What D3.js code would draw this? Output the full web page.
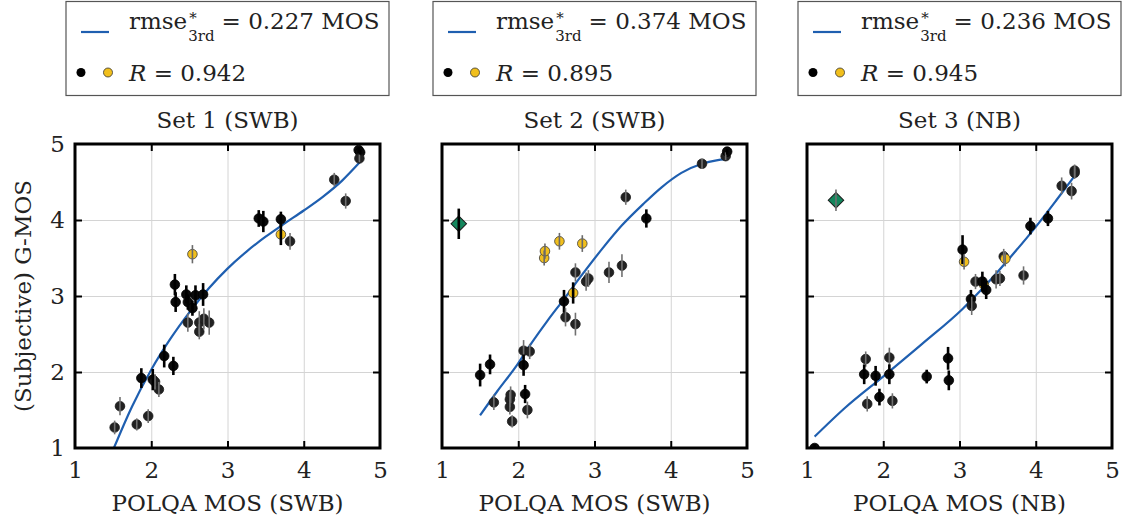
<!DOCTYPE html>
<html>
<head>
<meta charset="utf-8">
<script src="https://cdn.jsdelivr.net/npm/d3@7"></script>
<style>
  html, body { margin: 0; padding: 0; background: #fff; }
  svg { display: block; }
  text { font-family: "DejaVu Serif", "Liberation Serif", serif; fill: #222; }
</style>
</head>
<body>
<svg id="chart" width="1125" height="525"></svg>
<script>
// ---------- data ----------
// marker kinds: k = black point, g = dark grey point, y/Y = yellow point (grey / black bar), D/d = green diamond (black / grey bar)

// Set 1 (SWB)
const set1X   = [1.52, 1.59, 1.81, 1.96, 1.87, 2.02, 2.05, 2.10, 2.17, 2.29, 2.31, 2.32, 2.46, 2.48, 2.48, 2.54, 2.54, 2.58, 2.68, 2.63, 2.63, 2.69, 2.76, 3.41, 3.47, 3.70, 3.70, 3.82, 4.40, 4.55, 4.72, 4.74, 4.73];
const set1Y   = [1.27, 1.55, 1.31, 1.42, 1.92, 1.90, 1.87, 1.77, 2.21, 2.08, 3.15, 2.92, 3.02, 2.92, 2.65, 2.84, 3.55, 3.01, 3.02, 2.53, 2.65, 2.70, 2.65, 4.02, 3.98, 4.01, 3.81, 3.72, 4.53, 4.25, 4.92, 4.89, 4.81];
const set1Err = [0.09, 0.12, 0.08, 0.09, 0.13, 0.14, 0.10, 0.10, 0.15, 0.12, 0.14, 0.13, 0.12, 0.10, 0.12, 0.10, 0.12, 0.13, 0.15, 0.10, 0.15, 0.14, 0.16, 0.11, 0.14, 0.10, 0.14, 0.11, 0.09, 0.10, 0.04, 0.04, 0.05];
const set1Kind = ["g","g","g","g","k","k","g","g","k","k","k","k","k","k","g","k","y","k","k","g","g","g","g","k","k","k","Y","g","g","g","k","k","g"];
const fit1X = [1.51, 1.75, 2.00, 2.25, 2.50, 2.75, 3.00, 3.25, 3.50, 3.75, 4.00, 4.25, 4.50, 4.74];
const fit1Y = [1.00, 1.55, 2.03, 2.435, 2.785, 3.095, 3.36, 3.585, 3.78, 3.955, 4.125, 4.305, 4.515, 4.765];

// Set 2 (SWB)
const set2X   = [1.22, 1.50, 1.63, 1.68, 1.89, 1.90, 1.89, 1.92, 2.07, 2.15, 2.07, 2.09, 2.12, 2.34, 2.35, 2.54, 2.84, 2.60, 2.62, 2.75, 2.75, 2.72, 2.89, 2.92, 3.19, 3.36, 3.41, 3.68, 4.41, 4.72, 4.74];
const set2Y   = [3.95, 1.96, 2.10, 1.60, 1.64, 1.70, 1.54, 1.35, 2.28, 2.27, 2.09, 1.71, 1.50, 3.50, 3.59, 3.72, 3.69, 2.93, 2.72, 2.63, 3.31, 3.04, 3.19, 3.23, 3.31, 3.40, 4.30, 4.02, 4.74, 4.84, 4.90];
const set2Err = [0.20, 0.15, 0.13, 0.10, 0.10, 0.11, 0.10, 0.08, 0.14, 0.10, 0.14, 0.12, 0.11, 0.10, 0.10, 0.11, 0.11, 0.15, 0.12, 0.15, 0.12, 0.14, 0.12, 0.11, 0.14, 0.15, 0.10, 0.12, 0.07, 0.05, 0.04];
const set2Kind = ["D","k","k","g","g","g","g","g","g","g","k","k","g","y","y","y","y","k","g","g","g","Y","g","g","g","g","g","k","g","g","k"];
const fit2X = [1.50, 1.72, 1.99, 2.16, 2.38, 2.60, 2.86, 3.10, 3.36, 3.65, 3.88, 4.14, 4.41, 4.60, 4.73];
const fit2Y = [1.43, 1.74, 2.10, 2.36, 2.67, 2.96, 3.31, 3.62, 3.93, 4.22, 4.43, 4.62, 4.74, 4.785, 4.80];

// Set 3 (NB)
const set3X   = [1.38, 1.10, 1.77, 1.75, 1.90, 1.79, 1.95, 2.08, 2.08, 2.12, 2.57, 2.85, 2.86, 3.04, 3.06, 3.15, 3.16, 3.21, 3.32, 3.30, 3.35, 3.48, 3.53, 3.58, 3.60, 3.84, 3.93, 4.16, 4.34, 4.47, 4.51, 4.51];
const set3Y   = [4.26, 1.00, 2.17, 1.97, 1.95, 1.58, 1.67, 2.19, 1.97, 1.62, 1.94, 2.18, 1.89, 3.61, 3.45, 2.96, 2.87, 3.19, 3.15, 3.19, 3.08, 3.22, 3.23, 3.52, 3.49, 3.27, 3.92, 4.02, 4.45, 4.38, 4.65, 4.62];
const set3Err = [0.14, 0.05, 0.10, 0.13, 0.13, 0.10, 0.11, 0.13, 0.13, 0.10, 0.09, 0.15, 0.13, 0.19, 0.10, 0.12, 0.12, 0.10, 0.10, 0.13, 0.12, 0.12, 0.10, 0.10, 0.10, 0.12, 0.11, 0.10, 0.11, 0.11, 0.08, 0.08];
const set3Kind = ["d","k","g","k","k","g","k","g","k","g","k","k","k","k","y","k","g","g","Y","k","k","g","g","g","y","g","k","k","g","g","g","g"];
const fit3X = [1.10, 1.50, 2.01, 2.51, 3.04, 3.35, 3.65, 4.00, 4.27, 4.51];
const fit3Y = [1.15, 1.53, 1.95, 2.37, 2.83, 3.15, 3.49, 3.91, 4.26, 4.58];

const panelTitles = ["Set 1 (SWB)", "Set 2 (SWB)", "Set 3 (NB)"];
const xAxisLabels = ["POLQA MOS (SWB)", "POLQA MOS (SWB)", "POLQA MOS (NB)"];
const rmseValues = ["0.227", "0.374", "0.236"];
const rValues = ["0.942", "0.895", "0.945"];
const tickValues = [1, 2, 3, 4, 5];
const yAxisLabel = "(Subjective) G-MOS";

// ---------- layout ----------
const svg = d3.select("#chart");
const panelLeft = [75, 442, 807];
const panelW = 305;
const plotTop = 144, plotBottom = 448;
const FS = 23;

const BLUE = "#1f5fb0";
const YELLOW = "#f1bf1c";
const GREEN = "#13865c";

const styles = {
  k: { fill: "#0a0a0a", stroke: "#000", bar: "#000", barW: 2.6 },
  g: { fill: "#222222", stroke: "#1a1a1a", bar: "#707070", barW: 1.6 },
  y: { fill: YELLOW, stroke: "#3a3a3a", bar: "#6a6a6a", barW: 1.6 },
  Y: { fill: YELLOW, stroke: "#3a3a3a", bar: "#000", barW: 2.6 },
  D: { fill: GREEN, stroke: "#1c1c1c", bar: "#000", barW: 2.6, diamond: true },
  d: { fill: GREEN, stroke: "#1c1c1c", bar: "#707070", barW: 1.6, diamond: true }
};

const sets = [
  { x: set1X, y: set1Y, err: set1Err, kind: set1Kind, fx: fit1X, fy: fit1Y },
  { x: set2X, y: set2Y, err: set2Err, kind: set2Kind, fx: fit2X, fy: fit2Y },
  { x: set3X, y: set3Y, err: set3Err, kind: set3Kind, fx: fit3X, fy: fit3Y }
];

const y = d3.scaleLinear().domain([1, 5]).range([plotBottom, plotTop]);

sets.forEach((s, i) => {
  const left = panelLeft[i];
  const x = d3.scaleLinear().domain([1, 5]).range([left, left + panelW]);
  const cx = left + panelW / 2;
  const g = svg.append("g");

  const clipId = "clip" + i;
  g.append("clipPath").attr("id", clipId)
    .append("rect")
    .attr("x", left).attr("y", plotTop)
    .attr("width", panelW).attr("height", plotBottom - plotTop);

  // grid
  const inner = [2, 3, 4];
  g.append("g")
    .attr("transform", `translate(0,${plotBottom})`)
    .call(d3.axisBottom(x).tickValues(inner).tickSize(-(plotBottom - plotTop)).tickFormat(""))
    .call(a => a.select(".domain").remove())
    .call(a => a.selectAll("line").attr("stroke", "#d4d4d4").attr("stroke-width", 1));
  g.append("g")
    .attr("transform", `translate(${left},0)`)
    .call(d3.axisLeft(y).tickValues(inner).tickSize(-panelW).tickFormat(""))
    .call(a => a.select(".domain").remove())
    .call(a => a.selectAll("line").attr("stroke", "#d4d4d4").attr("stroke-width", 1));

  const plot = g.append("g").attr("clip-path", `url(#${clipId})`);

  // fitted third-order mapping
  const pts = s.fx.map((v, j) => [v, s.fy[j]]);
  plot.append("path")
    .datum(pts)
    .attr("fill", "none")
    .attr("stroke", BLUE)
    .attr("stroke-width", 2.2)
    .attr("d", d3.line().x(d => x(d[0])).y(d => y(d[1])).curve(d3.curveMonotoneX));

  const data = s.x.map((v, j) => ({ x: v, y: s.y[j], e: s.err[j], k: s.kind[j] }));

  // markers
  data.forEach(d => {
    const st = styles[d.k];
    if (st.diamond) {
      plot.append("path")
        .attr("d", d3.symbol(d3.symbolSquare, 120)())
        .attr("transform", `translate(${x(d.x)},${y(d.y)}) rotate(45)`)
        .attr("fill", st.fill).attr("stroke", st.stroke).attr("stroke-width", 1);
    } else {
      plot.append("circle")
        .attr("cx", x(d.x)).attr("cy", y(d.y)).attr("r", 4.8)
        .attr("fill", st.fill).attr("stroke", st.stroke).attr("stroke-width", 0.8);
    }
  });
  // confidence bars
  data.forEach(d => {
    const st = styles[d.k];
    plot.append("line")
      .attr("x1", x(d.x)).attr("x2", x(d.x))
      .attr("y1", y(d.y - d.e)).attr("y2", y(d.y + d.e))
      .attr("stroke", st.bar).attr("stroke-width", st.barW);
  });

  // inward ticks on all four sides
  const tk = 7;
  g.append("g").attr("transform", `translate(0,${plotBottom})`)
    .call(d3.axisTop(x).tickValues(inner).tickSize(tk).tickFormat(""))
    .call(a => a.select(".domain").remove())
    .call(a => a.selectAll("line").attr("stroke", "#000").attr("stroke-width", 2));
  g.append("g").attr("transform", `translate(0,${plotTop})`)
    .call(d3.axisBottom(x).tickValues(inner).tickSize(tk).tickFormat(""))
    .call(a => a.select(".domain").remove())
    .call(a => a.selectAll("line").attr("stroke", "#000").attr("stroke-width", 2));
  g.append("g").attr("transform", `translate(${left},0)`)
    .call(d3.axisRight(y).tickValues(inner).tickSize(tk).tickFormat(""))
    .call(a => a.select(".domain").remove())
    .call(a => a.selectAll("line").attr("stroke", "#000").attr("stroke-width", 2));
  g.append("g").attr("transform", `translate(${left + panelW},0)`)
    .call(d3.axisLeft(y).tickValues(inner).tickSize(tk).tickFormat(""))
    .call(a => a.select(".domain").remove())
    .call(a => a.selectAll("line").attr("stroke", "#000").attr("stroke-width", 2));

  // frame
  g.append("rect")
    .attr("x", left).attr("y", plotTop)
    .attr("width", panelW).attr("height", plotBottom - plotTop)
    .attr("fill", "none").attr("stroke", "#000").attr("stroke-width", 3);

  // x tick labels
  g.append("g").attr("transform", `translate(0,${plotBottom})`)
    .call(d3.axisBottom(x).tickValues(tickValues).tickSize(0).tickPadding(14).tickFormat(d3.format("d")))
    .call(a => a.select(".domain").remove())
    .call(a => a.attr("font-family", null).attr("font-size", null))
    .call(a => a.selectAll("text").style("font-size", FS + "px"));

  // y tick labels (first panel only)
  if (i === 0) {
    g.append("g").attr("transform", `translate(${left},0)`)
      .call(d3.axisLeft(y).tickValues(tickValues).tickSize(0).tickPadding(10).tickFormat(d3.format("d")))
      .call(a => a.select(".domain").remove())
      .call(a => a.attr("font-family", null).attr("font-size", null))
      .call(a => a.selectAll("text").style("font-size", FS + "px"));
    svg.append("text")
      .attr("transform", `translate(31,${(plotTop + plotBottom) / 2}) rotate(-90)`)
      .attr("text-anchor", "middle")
      .style("font-size", FS + "px")
      .text(yAxisLabel);
  }

  // x axis label
  g.append("text")
    .attr("x", cx).attr("y", 511)
    .attr("text-anchor", "middle")
    .style("font-size", FS + "px")
    .text(xAxisLabels[i]);

  // panel title
  g.append("text")
    .attr("x", cx).attr("y", 128)
    .attr("text-anchor", "middle")
    .style("font-size", FS + "px")
    .text(panelTitles[i]);

  // legend box
  const bw = 323, bx = cx - bw / 2;
  const lg = g.append("g");
  lg.append("rect")
    .attr("x", bx).attr("y", 1.5).attr("width", bw).attr("height", 94)
    .attr("fill", "#fff").attr("stroke", "#555").attr("stroke-width", 1.2);
  lg.append("line")
    .attr("x1", bx + 15).attr("x2", bx + 43).attr("y1", 32).attr("y2", 32)
    .attr("stroke", BLUE).attr("stroke-width", 2.2);

  const tx = bx + 63;
  const rm = lg.append("text").attr("x", tx).attr("y", 29).style("font-size", FS + "px").text("rmse");
  const rmW = rm.node().getComputedTextLength();
  const star = lg.append("text").attr("x", tx + rmW + 2).attr("y", 23).style("font-size", "15px").text("*");
  const sub = lg.append("text").attr("x", tx + rmW + 1).attr("y", 41).style("font-size", "15px").text("3rd");
  const subW = Math.max(sub.node().getComputedTextLength(), star.node().getComputedTextLength());
  lg.append("text").attr("x", tx + rmW + subW + 8).attr("y", 29).style("font-size", FS + "px")
    .text("= " + rmseValues[i] + " MOS");

  lg.append("circle").attr("cx", bx + 15).attr("cy", 72.5).attr("r", 4.5).attr("fill", "#000");
  lg.append("circle").attr("cx", bx + 42).attr("cy", 72.5).attr("r", 4.5)
    .attr("fill", YELLOW).attr("stroke", "#333").attr("stroke-width", 0.8);
  const rt = lg.append("text").attr("x", tx).attr("y", 81).style("font-size", FS + "px");
  rt.append("tspan").style("font-style", "italic").text("R");
  rt.append("tspan").text(" = " + rValues[i]);
});
</script>
</body>
</html>
